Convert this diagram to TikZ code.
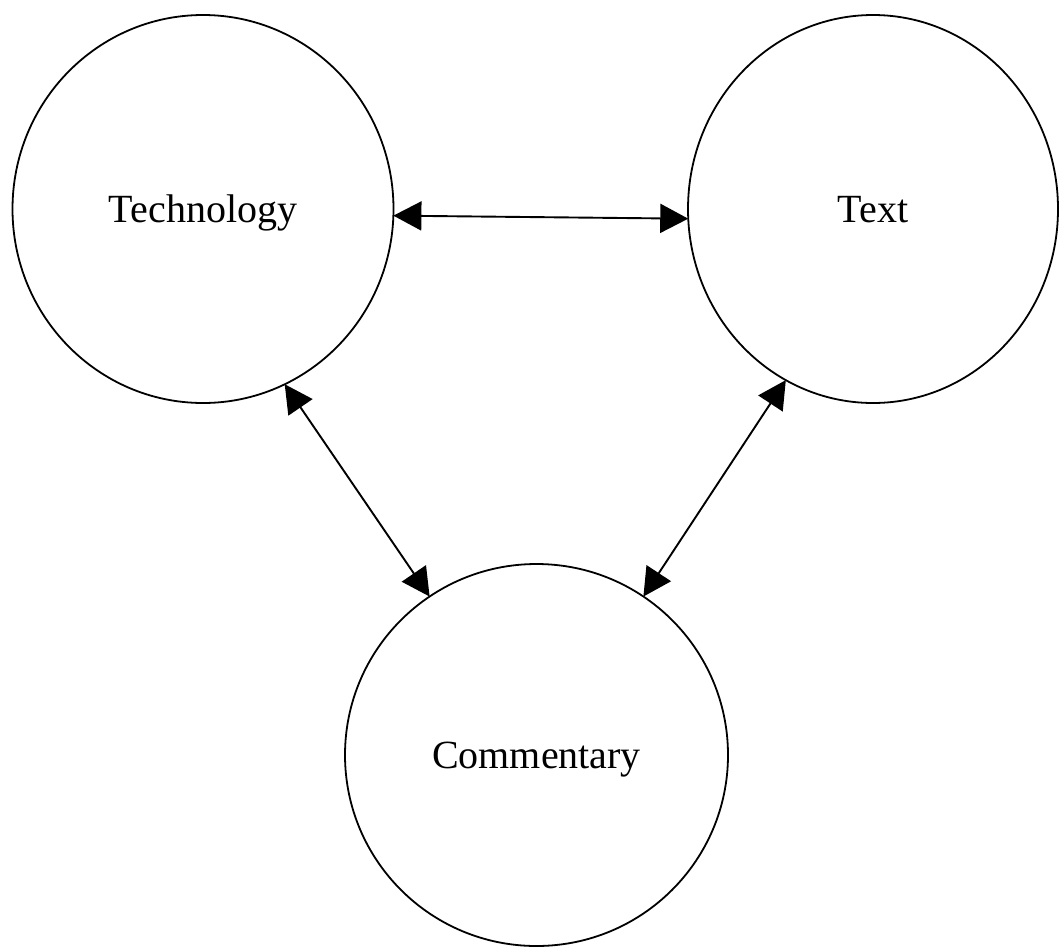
\documentclass[tikz,border=0pt]{standalone}
\usepackage{fontspec}
\setmainfont{Liberation Serif}
\usetikzlibrary{shapes.geometric,arrows.meta}
\begin{document}
\begin{tikzpicture}[x=1pt,y=-1pt,
  bubble/.style={draw=black,line width=1.8pt,ellipse,inner sep=0pt,outer sep=0pt,
    text height=27pt,text depth=0pt,font=\fontsize{40}{46}\selectfont},
  link/.style={line width=1.9pt,{Triangle[length=28pt,width=29pt]}-{Triangle[length=28pt,width=29pt]}}]
\useasboundingbox (0,0) rectangle (1059,948);
\node[bubble,minimum width=381pt,minimum height=388pt] (tech) at (203,209) {Technology};
\node[bubble,minimum width=370pt,minimum height=388pt] (text) at (873,209) {Text};
\node[bubble,minimum width=383pt,minimum height=382pt] (comm) at (536.5,755) {Commentary};
\draw[link] (tech.-2.4) -- (text.183.1);
\draw[link] (tech.-65.6) -- (comm.124.5);
\draw[link] (text.243.7) -- (comm.56.5);
\end{tikzpicture}
\end{document}
